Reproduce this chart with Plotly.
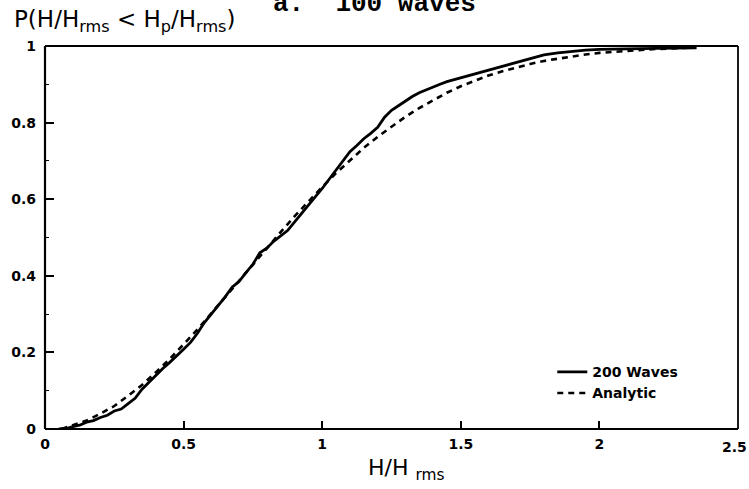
import plotly.graph_objects as go

solid_x = [0.05, 0.08, 0.10, 0.125, 0.15, 0.175, 0.20, 0.225, 0.25, 0.275, 0.30, 0.325, 0.35, 0.375,
           0.40, 0.425, 0.45, 0.475, 0.50, 0.525, 0.55, 0.575, 0.60, 0.625, 0.65, 0.675, 0.70, 0.725,
           0.75, 0.775, 0.80, 0.825, 0.85, 0.875, 0.90, 0.925, 0.95, 0.975, 1.00, 1.025, 1.05, 1.075,
           1.10, 1.125, 1.15, 1.175, 1.20, 1.225, 1.25, 1.275, 1.30, 1.325, 1.35, 1.375, 1.40, 1.425,
           1.45, 1.475, 1.50, 1.55, 1.60, 1.65, 1.70, 1.75, 1.80, 1.85, 1.90, 1.95, 2.00, 2.10, 2.20, 2.35]
solid_y = [0.000, 0.002, 0.006, 0.010, 0.018, 0.022, 0.030, 0.036, 0.047, 0.052, 0.066, 0.080, 0.104, 0.122,
           0.142, 0.158, 0.174, 0.190, 0.208, 0.226, 0.250, 0.278, 0.300, 0.322, 0.345, 0.370, 0.385, 0.408,
           0.430, 0.460, 0.472, 0.490, 0.505, 0.518, 0.540, 0.562, 0.585, 0.604, 0.628, 0.652, 0.676, 0.702,
           0.724, 0.740, 0.758, 0.772, 0.788, 0.814, 0.832, 0.844, 0.857, 0.868, 0.878, 0.886, 0.894, 0.900,
           0.907, 0.912, 0.918, 0.928, 0.938, 0.948, 0.958, 0.968, 0.977, 0.982, 0.986, 0.989, 0.991, 0.993,
           0.994, 0.995]

# Analytic curve
dash_x = [0.06, 0.10, 0.15, 0.20, 0.25, 0.30, 0.35, 0.40, 0.45, 0.50, 0.55, 0.60, 0.65, 0.70, 0.75, 0.80,
          0.85, 0.90, 0.95, 1.00, 1.05, 1.10, 1.15, 1.20, 1.25, 1.30, 1.35, 1.40, 1.45, 1.50, 1.55, 1.60,
          1.65, 1.70, 1.75, 1.80, 1.85, 1.90, 1.95, 2.00, 2.10, 2.20, 2.30, 2.35]
dash_y = [0.000, 0.010, 0.022, 0.040, 0.060, 0.087, 0.115, 0.148, 0.183, 0.221, 0.260, 0.302, 0.345, 0.387,
          0.430, 0.473, 0.514, 0.555, 0.594, 0.632, 0.668, 0.702, 0.734, 0.763, 0.790, 0.815, 0.838, 0.859,
          0.878, 0.895, 0.910, 0.923, 0.934, 0.944, 0.953, 0.961, 0.967, 0.973, 0.978, 0.982, 0.988, 0.992,
          0.995, 0.996]

x_ticks = [0, 0.5, 1, 1.5, 2, 2.5]
x_tick_labels = ["0", "0.5", "1", "1.5", "2", "2.5"]
y_ticks = [0, 0.2, 0.4, 0.6, 0.8, 1]
y_tick_labels = ["0", "0.2", "0.4", "0.6", "0.8", "1"]

fig = go.Figure()
fig.add_trace(go.Scatter(x=solid_x, y=solid_y, mode="lines", name="200 Waves",
                         line=dict(color="black", width=2.8)))
fig.add_trace(go.Scatter(x=dash_x, y=dash_y, mode="lines", name="Analytic",
                         line=dict(color="black", width=2.6, dash="6px,5px")))

tickfont = dict(family="DejaVu Sans", size=14, color="black", weight="bold")

# last x tick label is drawn as an annotation nudged left so it is not cut at the page edge
shown_x_labels = x_tick_labels[:-1] + [""]

fig.update_layout(
    template="none",
    width=749, height=489,
    margin=dict(l=45, r=11, t=46, b=60),
    paper_bgcolor="white", plot_bgcolor="white",
    showlegend=True,
    legend=dict(x=0.732, y=0.19, xanchor="left", yanchor="top",
                bgcolor="rgba(0,0,0,0)", borderwidth=0,
                font=dict(family="DejaVu Sans", size=14, color="black", weight="bold"),
                tracegroupgap=0),
    xaxis=dict(range=[0, 2.5], tickvals=x_ticks, ticktext=shown_x_labels,
               showgrid=False, zeroline=False, showline=False,
               ticks="inside", ticklen=8, tickwidth=1.5,
               tickcolor="black", tickfont=tickfont, automargin=False,
               ticklabelstandoff=5, ticklabeloverflow="allow"),
    yaxis=dict(range=[0, 1], tickvals=y_ticks, ticktext=y_tick_labels,
               showgrid=False, zeroline=False, showline=False,
               ticks="inside", ticklen=9, tickwidth=1.5,
               tickcolor="black", tickfont=tickfont, automargin=False,
               ticklabelstandoff=8, ticklabeloverflow="allow",
               minor=dict(ticks="inside", dtick=0.1, ticklen=4, tickwidth=1.2,
                          tickcolor="black", showgrid=False)),
    shapes=[
        dict(type="line", xref="paper", yref="paper", x0=0, x1=0, y0=0, y1=1,
             line=dict(color="black", width=2.2), layer="above"),
        dict(type="line", xref="paper", yref="paper", x0=0, x1=1, y0=0, y1=0,
             line=dict(color="black", width=2.2), layer="above"),
        dict(type="line", xref="paper", yref="paper", x0=0, x1=1, y0=1, y1=1,
             line=dict(color="black", width=1.8), layer="above"),
        dict(type="line", xref="paper", yref="paper", x0=1, x1=1, y0=0, y1=1,
             line=dict(color="black", width=1.8), layer="above"),
    ],
    annotations=[
        dict(text=x_tick_labels[-1], xref="paper", yref="paper", x=1.0, y=-0.047,
             xanchor="right", yanchor="middle", xshift=11, showarrow=False,
             font=tickfont),
        dict(text="a.  100 waves", xref="paper", yref="paper", x=0.476, y=1.11,
             xanchor="center", yanchor="middle", showarrow=False,
             font=dict(family="Liberation Mono", size=26, color="black", weight="bold")),
        dict(text="P(H/H<sub>rms</sub> < H<sub>p</sub>/H<sub>rms</sub>)", xref="paper", yref="paper",
             x=-0.048, y=1.065, xanchor="left", yanchor="middle", showarrow=False,
             font=dict(family="DejaVu Sans", size=23, color="black")),
        dict(text="H/H <sub>rms</sub>", xref="paper", yref="paper", x=0.521, y=-0.107,
             xanchor="center", yanchor="middle", showarrow=False,
             font=dict(family="DejaVu Sans", size=22, color="black")),
    ],
)

fig.write_html("out.html",
               config={"displayModeBar": False},
               post_script="document.body.style.margin='0px';document.body.style.overflow='hidden';")
